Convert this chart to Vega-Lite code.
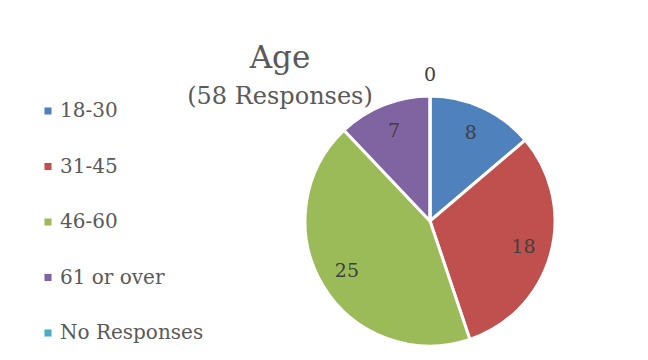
{
  "$schema": "https://vega.github.io/schema/vega-lite/v6.json",
  "width": 250,
  "height": 250,
  "autosize": "none",
  "padding": {"left": 305, "top": 96, "right": 93, "bottom": 14},
  "background": "white",
  "title": {
    "text": "Age",
    "subtitle": "(58 Responses)",
    "anchor": "middle",
    "dx": -150,
    "dy": 48,
    "font": "DejaVu Serif",
    "fontSize": 31,
    "fontWeight": "normal",
    "color": "#595959",
    "subtitleFont": "DejaVu Serif",
    "subtitleFontSize": 24,
    "subtitleColor": "#595959",
    "subtitlePadding": 10
  },
  "data": {
    "values": [
      {"group": "18-30", "count": 8},
      {"group": "31-45", "count": 18},
      {"group": "46-60", "count": 25},
      {"group": "61 or over", "count": 7},
      {"group": "No Responses", "count": 0}
    ]
  },
  "config": {"view": {"stroke": null}},
  "encoding": {
    "theta": {"field": "count", "type": "quantitative", "stack": true},
    "order": {"field": "group", "sort": "ascending"},
    "color": {
      "field": "group",
      "type": "nominal",
      "scale": {
        "domain": ["18-30", "31-45", "46-60", "61 or over", "No Responses"],
        "range": ["#4F81BD", "#C0504D", "#9BBB59", "#8064A2", "#4BACC6"]
      },
      "legend": {
        "title": null,
        "orient": "none",
        "legendX": -267,
        "legendY": 5,
        "symbolType": "square",
        "symbolSize": 50,
        "symbolStrokeWidth": 0,
        "labelFont": "DejaVu Serif",
        "labelFontSize": 20,
        "labelColor": "#595959",
        "labelLimit": 300,
        "rowPadding": 35.5,
        "labelOffset": 2
      }
    }
  },
  "layer": [
    {
      "mark": {"type": "arc", "outerRadius": 125, "stroke": "white", "strokeWidth": 3}
    },
    {
      "transform": [{"filter": "datum.count > 0"}],
      "mark": {"type": "text", "font": "DejaVu Serif", "fontSize": 19, "radius": 97, "color": "#404040"},
      "encoding": {
        "text": {"field": "count", "type": "quantitative"},
        "color": {"value": "#404040"}
      }
    },
    {
      "transform": [{"filter": "datum.count == 0"}],
      "mark": {"type": "text", "font": "DejaVu Serif", "fontSize": 19, "radius": 146, "color": "#404040"},
      "encoding": {
        "text": {"field": "count", "type": "quantitative"},
        "color": {"value": "#404040"}
      }
    }
  ]
}
